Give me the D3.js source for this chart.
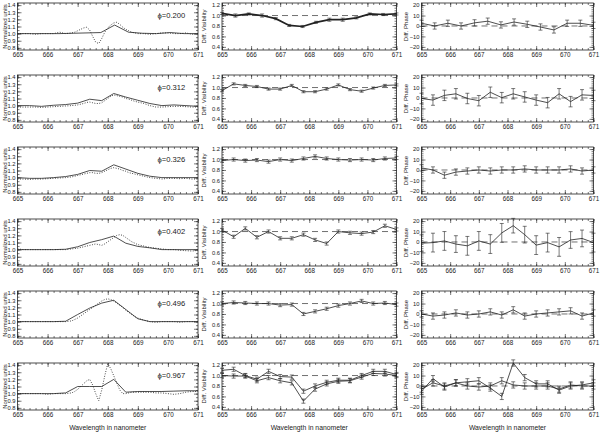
<!DOCTYPE html>
<html><head><meta charset="utf-8">
<script src="https://cdn.jsdelivr.net/npm/d3@7"></script>
<style>
body{margin:0;background:#fff}
svg{opacity:0.995}
text{font-family:"Liberation Sans",Arial,sans-serif;fill:#222}
</style>
</head><body><svg id="c" width="600" height="433"></svg>
<script>
// ---------- data ----------
const phaseLabels = ["0.200","0.312","0.326","0.402","0.496","0.967"];
const xTicks = [665,666,667,668,669,670,671];
const fluxTicks = [0.8,0.9,1.0,1.1,1.2,1.3,1.4];
const visTicks = [0.4,0.6,0.8,1.0,1.2];
const phTicks = [-20,-10,0,10,20];

// fine wavelength grid of the observed (dotted) spectra
const fineX = [665.0,665.2,665.4,665.6,665.8,666.0,666.2,666.4,666.6,666.8,
  666.9,667.0,667.1,667.2,667.3,667.4,667.5,667.6,667.7,667.8,667.9,668.0,668.1,668.2,668.3,668.4,668.5,668.6,668.7,668.8,668.9,669.0,
  669.2,669.4,669.6,669.8,670.0,670.2,670.4,670.6,670.8,671.0];
// spectral channels
const chan14 = [665.00,665.46,665.92,666.38,666.85,667.31,667.77,668.23,668.69,669.15,669.62,670.08,670.54,671.00];
const chan16 = [665.0,665.4,665.8,666.2,666.6,667.0,667.4,667.8,668.2,668.6,669.0,669.4,669.8,670.2,670.6,671.0];

const obs1 = [1.0,1.0,1.0,0.99,1.0,1.0,1.0,1.02,1.0,1.01,
  1.02,1.04,1.06,1.08,1.09,1.05,0.96,0.88,0.86,0.93,1.02,1.08,1.12,1.15,1.16,1.13,1.09,1.06,1.04,1.02,1.01,1.0,
  1.0,0.99,1.0,1.01,1.01,1.0,1.0,1.01,0.99,1.0];
const obs2 = [0.98,0.98,0.98,0.98,0.975,0.98,0.985,0.99,0.995,1.0,
  1.005,1.01,1.02,1.03,1.045,1.05,1.04,1.03,1.03,1.04,1.07,1.10,1.13,1.15,1.14,1.13,1.12,1.10,1.09,1.075,1.06,1.05,
  1.03,1.0,0.98,0.98,0.985,0.99,0.99,0.985,0.98,0.98];
const obs3 = [0.98,0.98,0.975,0.98,0.98,0.985,0.99,0.995,1.0,1.01,
  1.02,1.03,1.04,1.05,1.06,1.07,1.07,1.06,1.06,1.07,1.09,1.11,1.13,1.14,1.13,1.12,1.10,1.09,1.07,1.06,1.05,1.04,
  1.02,1.0,0.99,0.98,0.99,0.99,0.985,0.99,0.98,0.98];
const obs4 = [1.01,1.0,1.0,1.0,1.0,1.0,1.0,1.0,1.0,1.01,
  1.015,1.02,1.03,1.04,1.05,1.06,1.07,1.08,1.07,1.06,1.08,1.11,1.14,1.17,1.20,1.21,1.20,1.17,1.14,1.11,1.09,1.07,
  1.05,1.03,1.02,1.01,1.0,1.0,0.99,0.985,0.98,0.99];
const obs5 = [1.0,1.0,1.0,1.0,1.0,1.0,1.0,1.0,1.0,1.01,
  1.03,1.05,1.08,1.11,1.14,1.17,1.20,1.23,1.26,1.29,1.31,1.32,1.31,1.29,1.26,1.23,1.20,1.16,1.13,1.10,1.07,1.05,
  1.02,1.0,0.99,1.0,1.0,1.0,0.99,1.0,1.0,1.0];
const obs6 = [1.0,1.0,1.0,1.0,1.0,0.99,1.0,1.0,1.0,1.01,
  1.03,1.06,1.10,1.14,1.18,1.20,1.12,1.0,0.9,1.05,1.25,1.42,1.35,1.25,1.15,1.05,1.0,1.0,1.01,1.02,1.02,1.02,
  1.02,1.02,1.01,1.01,1.0,0.99,1.0,1.02,1.03,1.03];

const mod1 = [1.0,1.0,1.0,1.0,1.005,1.01,1.015,1.12,1.02,1.005,1.0,1.015,1.0,1.0];
const mod2 = [1.0,1.0,0.99,1.005,1.015,1.035,1.09,1.07,1.17,1.12,1.075,1.03,1.0,1.01,1.0,0.99];
const mod3 = [1.0,0.99,0.99,1.0,1.015,1.045,1.10,1.09,1.18,1.12,1.06,1.02,1.0,1.0,1.0,1.0];
const mod4 = [1.0,1.0,1.0,1.0,1.005,1.04,1.10,1.14,1.19,1.09,1.045,1.025,1.0,1.0,1.0,1.0];
const mod5 = [1.0,1.0,1.0,1.0,1.005,1.10,1.19,1.26,1.30,1.17,1.04,1.0,1.0,1.0,1.0,1.0];
const mod6 = [1.0,1.0,1.0,1.0,1.01,1.10,1.10,1.10,1.20,1.02,1.03,1.03,1.03,1.035,1.04,1.04];

const vis1 = [1.04,1.0,1.03,1.0,0.94,0.81,0.79,0.87,0.92,0.92,0.955,1.03,1.02,1.03];
const visErr1 = [0.02,0.03,0.02,0.03,0.02,0.02,0.02,0.02,0.03,0.03,0.02,0.02,0.02,0.02];
const vis2 = [0.94,1.07,1.04,1.02,0.97,0.97,1.04,0.92,0.92,0.97,1.05,0.96,0.93,0.99,1.04,1.05];
const visErr2 = [0.02,0.02,0.02,0.02,0.02,0.02,0.02,0.02,0.02,0.02,0.02,0.02,0.02,0.02,0.02,0.02];
const vis3 = [0.98,1.0,0.98,0.99,0.96,1.0,0.98,1.02,1.06,1.02,1.0,0.99,1.0,0.99,1.02,1.03];
const visErr3 = [0.03,0.03,0.03,0.03,0.03,0.03,0.03,0.03,0.03,0.03,0.03,0.03,0.03,0.03,0.03,0.03];
const vis4 = [1.03,0.90,1.06,0.89,1.0,0.87,0.87,0.94,0.84,0.77,1.0,0.975,0.96,0.99,1.11,1.04];
const visErr4 = [0.03,0.03,0.03,0.03,0.03,0.03,0.03,0.03,0.03,0.03,0.03,0.03,0.03,0.03,0.03,0.03];
const vis5 = [1.0,1.02,1.01,1.0,1.0,0.97,0.98,0.80,0.85,0.90,0.96,1.0,1.05,1.0,1.01,0.98];
const visErr5 = [0.03,0.03,0.03,0.03,0.03,0.03,0.03,0.03,0.03,0.03,0.03,0.03,0.03,0.03,0.03,0.03];
const vis6a = [1.10,1.12,1.0,0.93,1.08,0.98,0.97,0.70,0.80,0.87,0.91,0.91,1.0,1.08,1.08,1.02];
const vis6b = [1.0,0.99,0.99,0.90,0.96,0.90,0.86,0.51,0.74,0.84,0.89,0.90,0.97,1.04,1.03,1.0];
const visErr6 = [0.04,0.04,0.04,0.04,0.04,0.04,0.04,0.04,0.04,0.04,0.04,0.04,0.04,0.04,0.04,0.04];

const ph1 = [2.6,0,2.6,0,3,4.6,1,3.8,1.6,-1,-3.8,2.6,2.6,0.6];
const phErr1 = [3,3,3,3,3,3,3,3,3,3,3,3,3,3];
const ph2 = [-0.5,-2,2.5,4,-0.5,-2.6,5.5,0.3,4,1,-2,-4.5,4,-3.5,3,2.4];
const phErr2 = [5,5,5,5,5,5,5,5,5,5,5,5,5,5,5,5];
const ph3 = [2,0,-5,-2,-1,0,-1,0,0,1,0,0,0,1,-1,0];
const phErr3 = [3,3,3,3,3,3,3,3,3,3,3,3,3,3,3,3];
const ph4 = [-1.2,-0.6,1,-2,-3.7,1,-2,8.7,15.6,7,-3,-0.6,-4.7,1.9,3.4,-0.6];
const phErr4 = [8,9,9,8,9,9,9,9,7,8,9,9,9,8,8,9];
const ph5 = [0,-2,-1,1,-1,0,2,-1,4,-2,0,1,2,3,-2,1];
const phErr5 = [3,3,3,3,3,3,3,3,3,3,3,3,3,3,3,3];
const ph6a = [-5,7,-1,3,4,5,-2,-10,22,8,2,2,-4,0,1,3];
const ph6b = [-3,3,0,3,0,-1,0,5,1,0,0,0,-3,1,0,0];
const phErr6 = [3,3,3,3,3,3,3,3,3,3,3,3,3,3,3,3];

// ---------- assemble ----------
const rows = [
  {chan:chan14, obs:obs1, mod:mod1, vis:[vis1], visErr:visErr1, ph:[ph1], phErr:phErr1, bold:true},
  {chan:chan16, obs:obs2, mod:mod2, vis:[vis2], visErr:visErr2, ph:[ph2], phErr:phErr2},
  {chan:chan16, obs:obs3, mod:mod3, vis:[vis3], visErr:visErr3, ph:[ph3], phErr:phErr3},
  {chan:chan16, obs:obs4, mod:mod4, vis:[vis4], visErr:visErr4, ph:[ph4], phErr:phErr4},
  {chan:chan16, obs:obs5, mod:mod5, vis:[vis5], visErr:visErr5, ph:[ph5], phErr:phErr5},
  {chan:chan16, obs:obs6, mod:mod6, vis:[vis6a,vis6b], visErr:visErr6, ph:[ph6a,ph6b], phErr:phErr6}
];

const svg = d3.select("#c");
const cols = [{l:17.5,r:198},{l:222,r:396.5},{l:421.5,r:593.5}];
const rowTop = i => 3 + 72*i, rowBot = i => 50 + 72*i;
const ink = "#222";

function axes(g, x, y, yt, yMinor, fmt, top, bot, l, r) {
  const xMinor = d3.range(665, 671.001, 0.2);
  const mk = (a, fs) => a.call(s => s.select(".domain").remove())
    .call(s => s.selectAll("line").attr("stroke", ink).attr("stroke-width", 0.6))
    .call(s => s.selectAll("text").attr("font-size", fs).attr("fill", "#222").attr("font-family", "Liberation Sans, Arial, sans-serif"));
  g.append("g").attr("transform", `translate(0,${bot})`).call(d3.axisBottom(x).tickValues(xTicks).tickSize(-4).tickPadding(3).tickFormat(d3.format("d"))).call(a => mk(a, 6.3));
  g.append("g").attr("transform", `translate(0,${bot})`).call(d3.axisBottom(x).tickValues(xMinor).tickSize(-2).tickFormat("")).call(a => mk(a, 6));
  g.append("g").attr("transform", `translate(0,${top})`).call(d3.axisTop(x).tickValues(xTicks).tickSize(-4).tickFormat("")).call(a => mk(a, 6));
  g.append("g").attr("transform", `translate(0,${top})`).call(d3.axisTop(x).tickValues(xMinor).tickSize(-2).tickFormat("")).call(a => mk(a, 6));
  g.append("g").attr("transform", `translate(${l},0)`).call(d3.axisLeft(y).tickValues(yt).tickSize(-4).tickPadding(2).tickFormat(fmt)).call(a => mk(a, 5.8));
  g.append("g").attr("transform", `translate(${l},0)`).call(d3.axisLeft(y).tickValues(yMinor).tickSize(-2).tickFormat("")).call(a => mk(a, 6));
  g.append("g").attr("transform", `translate(${r},0)`).call(d3.axisRight(y).tickValues(yt).tickSize(-4).tickFormat("")).call(a => mk(a, 6));
  g.append("g").attr("transform", `translate(${r},0)`).call(d3.axisRight(y).tickValues(yMinor).tickSize(-2).tickFormat("")).call(a => mk(a, 6));
  g.append("rect").attr("x", l).attr("y", top).attr("width", r - l).attr("height", bot - top)
    .attr("fill", "none").attr("stroke", ink).attr("stroke-width", 0.8);
}

function errSeries(g, x, y, xs, ys, es, lw) {
  g.append("path").datum(ys).attr("fill", "none").attr("stroke", ink).attr("stroke-width", lw)
    .attr("d", d3.line().x((d, k) => x(xs[k])).y(d => y(d)));
  const eb = g.append("g").attr("stroke", ink).attr("stroke-width", 0.6);
  ys.forEach((v, k) => {
    const cx = x(xs[k]);
    const y1 = y(v - es[k]), y2 = y(v + es[k]);
    eb.append("line").attr("x1", cx).attr("x2", cx).attr("y1", y1).attr("y2", y2);
    eb.append("line").attr("x1", cx - 2).attr("x2", cx + 2).attr("y1", y1).attr("y2", y1);
    eb.append("line").attr("x1", cx - 2).attr("x2", cx + 2).attr("y1", y2).attr("y2", y2);
  });
}

rows.forEach((row, i) => {
  const top = rowTop(i), bot = rowBot(i);
  // column 1: flux
  {
    const c = cols[0];
    const g = svg.append("g");
    const x = d3.scaleLinear().domain([665, 671]).range([c.l, c.r]);
    const y = d3.scaleLinear().domain([0.77, 1.43]).range([bot, top]);
    axes(g, x, y, fluxTicks, d3.range(0.8, 1.4001, 0.05), d3.format(".1f"), top, bot, c.l, c.r);
    g.append("path").datum(row.obs).attr("fill", "none").attr("stroke", ink).attr("stroke-width", 0.9)
      .attr("stroke-dasharray", "0.9,1.6")
      .attr("d", d3.line().x((d, k) => x(fineX[k])).y(d => y(d)));
    g.append("path").datum(row.mod).attr("fill", "none").attr("stroke", ink).attr("stroke-width", 0.8)
      .attr("d", d3.line().x((d, k) => x(row.chan[k])).y(d => y(d)));
    g.append("text").attr("x", c.l + 140).attr("y", top + 14.5).attr("font-size", 7.6)
      .text("\u03D5=" + phaseLabels[i]);
    g.append("text").attr("transform", `translate(6.5,${(top + bot) / 2}) rotate(-90)`)
      .attr("text-anchor", "middle").attr("font-size", 6).text("Normalized units");
  }
  // column 2: visibility
  {
    const c = cols[1];
    const g = svg.append("g");
    const x = d3.scaleLinear().domain([665, 671]).range([c.l, c.r]);
    const y = d3.scaleLinear().domain([0.34, 1.24]).range([bot, top]);
    axes(g, x, y, visTicks, d3.range(0.4, 1.2001, 0.05), d3.format(".1f"), top, bot, c.l, c.r);
    g.append("line").attr("x1", c.l).attr("x2", c.r).attr("y1", y(1)).attr("y2", y(1))
      .attr("stroke", "#333").attr("stroke-width", 0.7).attr("stroke-dasharray", "6,4");
    row.vis.forEach(s => errSeries(g, x, y, row.chan, s, row.visErr, row.bold ? 1.7 : 0.8));
    g.append("text").attr("transform", `translate(206,${(top + bot) / 2}) rotate(-90)`)
      .attr("text-anchor", "middle").attr("font-size", 6).text("Diff. Visibility");
  }
  // column 3: phase
  {
    const c = cols[2];
    const g = svg.append("g");
    const x = d3.scaleLinear().domain([665, 671]).range([c.l, c.r]);
    const y = d3.scaleLinear().domain([-23, 22]).range([bot, top]);
    axes(g, x, y, phTicks, d3.range(-20, 20.001, 2), d3.format("d"), top, bot, c.l, c.r);
    g.append("line").attr("x1", c.l).attr("x2", c.r).attr("y1", y(0)).attr("y2", y(0))
      .attr("stroke", "#333").attr("stroke-width", 0.7).attr("stroke-dasharray", "6,4");
    row.ph.forEach(s => errSeries(g, x, y, row.chan, s, row.phErr, 0.8));
    g.append("text").attr("transform", `translate(407.5,${(top + bot) / 2}) rotate(-90)`)
      .attr("text-anchor", "middle").attr("font-size", 6).text("Diff. Phase");
  }
});

// x titles under the bottom row
cols.forEach(c => {
  svg.append("text").attr("x", (c.l + c.r) / 2).attr("y", 429.5).attr("text-anchor", "middle")
    .attr("font-size", 6.8).text("Wavelength in nanometer");
});
</script>
</body></html>
